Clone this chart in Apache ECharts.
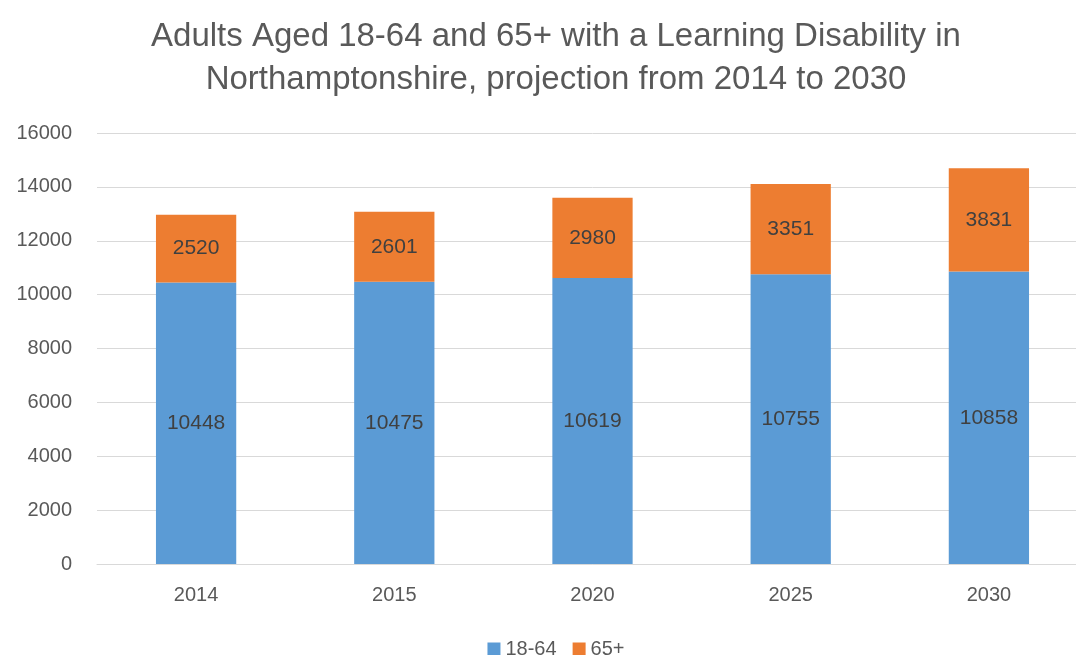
<!DOCTYPE html>
<html>
<head>
<meta charset="utf-8">
<title>Learning Disability projection</title>
<script src="https://cdn.jsdelivr.net/npm/echarts@6/dist/echarts.min.js"></script>
<style>
  html, body { margin: 0; padding: 0; background: #fff; overflow: hidden; }
  /* the original chart is wider than the window and is cut at the right */
  #chart1 { width: 1112px; height: 655px; }
</style>
</head>
<body>
<div id="chart1"></div>
<script type="text/javascript">
// data
var years = ['2014', '2015', '2020', '2025', '2030'];
var adults1864 = [10448, 10475, 10619, 10755, 10858];
var adults65plus = [2520, 2601, 2980, 3351, 3831];
var seriesNames = ['18-64', '65+'];

var font = 'Liberation Sans';
var myChart1 = echarts.init(document.getElementById('chart1'));

myChart1.setOption({
    animation: false,
    color: ['#5B9BD5', '#ED7D31'],
    title: {
        text: 'Adults Aged 18-64 and 65+ with a Learning Disability in\nNorthamptonshire, projection from 2014 to 2030',
        left: 'center',
        top: 10,
        textStyle: {
            fontFamily: font,
            fontSize: 33,
            fontWeight: 'normal',
            color: '#595959',
            lineHeight: 43
        }
    },
    legend: {
        data: seriesNames,
        top: 634,
        left: 'center',
        itemWidth: 13,
        itemHeight: 13,
        itemGap: 16,
        icon: 'rect',
        textStyle: { fontFamily: font, fontSize: 20, color: '#595959' }
    },
    grid: {
        left: 97,
        top: 133,
        right: 24,
        bottom: 91
    },
    xAxis: {
        type: 'category',
        data: years,
        axisTick: { show: false },
        axisLine: { lineStyle: { color: '#D9D9D9', width: 1 } },
        axisLabel: { fontFamily: font, fontSize: 20, color: '#595959', margin: 21 }
    },
    yAxis: {
        type: 'value',
        min: 0,
        max: 16000,
        interval: 2000,
        axisLine: { show: false },
        axisTick: { show: false },
        splitLine: { lineStyle: { color: '#D9D9D9', width: 1 } },
        axisLabel: {
            fontFamily: font, fontSize: 20, color: '#595959', margin: 25,
            formatter: function (v) { return String(v); }
        }
    },
    series: [{
        name: seriesNames[0],
        type: 'bar',
        stack: 'total',
        barWidth: '40.5%',
        data: adults1864,
        label: { show: true, position: 'inside', fontFamily: font, fontSize: 21, color: '#404040' }
    }, {
        name: seriesNames[1],
        type: 'bar',
        stack: 'total',
        data: adults65plus,
        label: { show: true, position: 'inside', fontFamily: font, fontSize: 21, color: '#404040' }
    }]
});
</script>
</body>
</html>
